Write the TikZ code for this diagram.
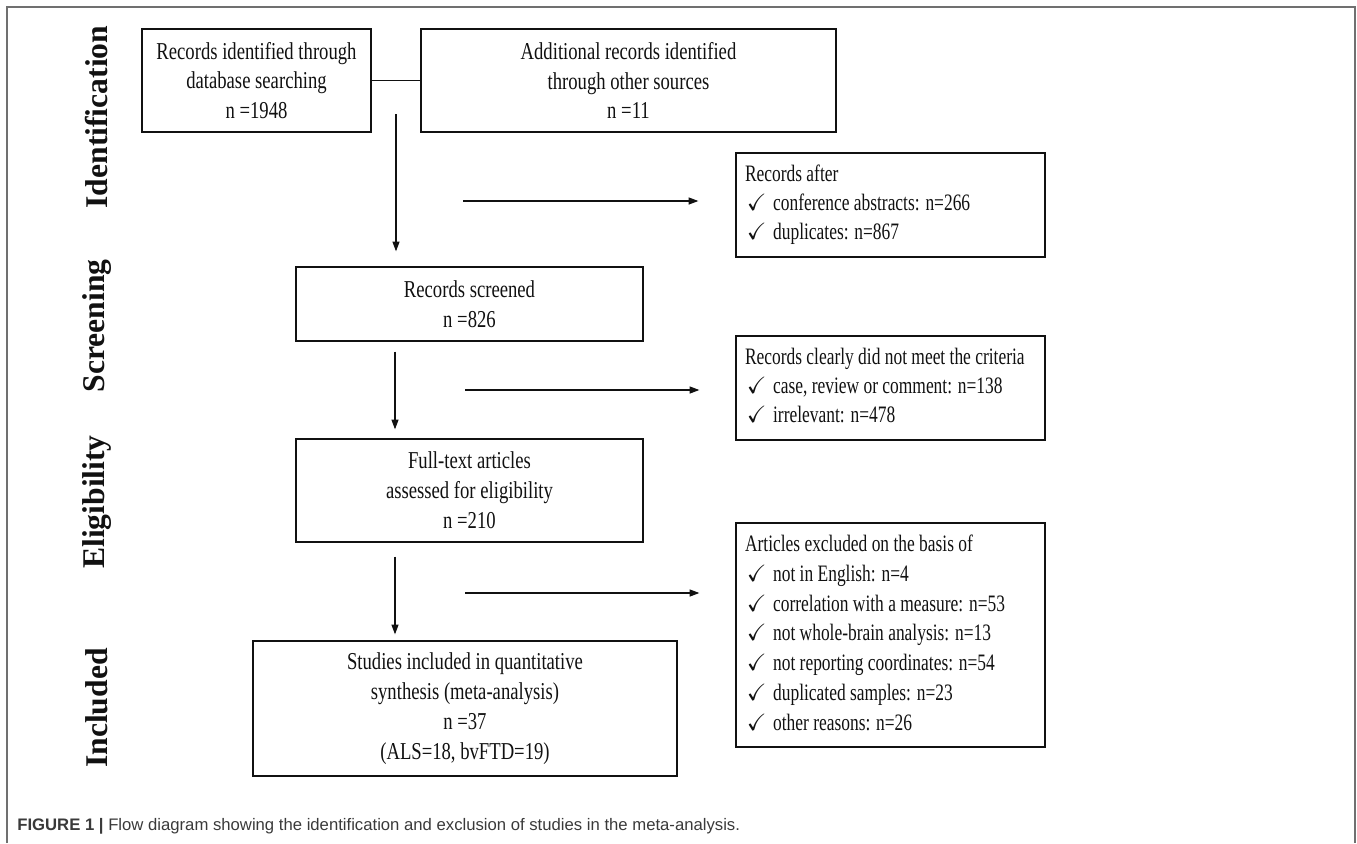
\documentclass[tikz,border=0pt]{standalone}
\usepackage{amssymb}
\usepackage{fontspec}
\setmainfont{Liberation Serif}
\setsansfont{Liberation Sans}
\newfontfamily\boxfont{Liberation Serif}[FakeStretch=0.77]
\newfontfamily\listfont{Liberation Serif}[FakeStretch=0.74]
\usetikzlibrary{arrows.meta}
\definecolor{flowink}{HTML}{111111}
\definecolor{framegray}{HTML}{707070}
\definecolor{captionink}{HTML}{3A3A3A}
\newcommand{\tickitem}{\makebox[16pt][l]{\hspace{1pt}$\checkmark$}}
\newcommand{\ticklist}[1]{\makebox[5.82cm][l]{\begin{tabular}{@{}l@{}}#1\end{tabular}}}

\begin{document}
\begin{tikzpicture}[x=0.02cm, y=-0.02cm, >={Triangle[length=5.5pt,width=4pt]},
                    every node/.style={flowink},
                    flowbox/.style={draw=flowink, line width=0.8pt, align=center, inner sep=0pt,
                                    font=\boxfont\fontsize{13.8pt}{17pt}\selectfont},
                    listbox/.style={draw=flowink, line width=0.8pt, inner ysep=0pt, inner xsep=0.18cm,
                                    minimum width=6.18cm, font=\listfont\fontsize{13.4pt}{16.4pt}\selectfont},
                    stagelabel/.style={rotate=90, font=\fontsize{18pt}{20pt}\selectfont\bfseries},
                    flowarrow/.style={->, draw=flowink, line width=0.6pt}]

  \useasboundingbox (0,0) rectangle (1357,843);

  %% outer frame, open at the bottom
  \draw[framegray, line width=1.1pt] (7,843) -- (7,7) -- (1355,7) -- (1355,843);

  %% stage labels
  \node[stagelabel] (lidentify) at (97,117) {Identification};
  \node[stagelabel] (lscreen)   at (97,326) {Screening};
  \node[stagelabel] (leligible) at (97,502) {Eligibility};
  \node[stagelabel] (linclude)  at (97,708) {Included};

  %% main column
  \node[flowbox, minimum width=4.58cm, minimum height=2.06cm] (recdb) at (256.5,80.5)
       {Records identified through\\database searching\\n =1948};
  \node[flowbox, minimum width=8.30cm, minimum height=2.06cm] (recother) at (628.5,80.5)
       {Additional records identified\\through other sources\\n =11};
  \node[flowbox, minimum width=6.94cm, minimum height=1.48cm] (screened) at (469.5,304)
       {Records screened\\n =826};
  \node[flowbox, minimum width=6.94cm, minimum height=2.06cm] (fulltext) at (469.5,490.5)
       {Full-text articles\\assessed for eligibility\\n =210};
  \node[flowbox, minimum width=8.48cm, minimum height=2.70cm] (included) at (465,708.5)
       {Studies included in quantitative\\synthesis (meta-analysis)\\n =37\\(ALS=18, bvFTD=19)};

  %% exclusions
  \node[listbox, minimum height=2.08cm] (after) at (890.5,205)
       {\ticklist{Records after\\
        \tickitem conference abstracts: n=266\\
        \tickitem duplicates: n=867}};
  \node[listbox, minimum height=2.08cm] (clearly) at (890.5,388)
       {\ticklist{Records clearly did not meet the criteria\\
        \tickitem case, review or comment: n=138\\
        \tickitem irrelevant: n=478}};
  \node[listbox, font=\listfont\fontsize{13.4pt}{17pt}\selectfont, minimum height=4.48cm] (articles) at (890.5,635)
       {\ticklist{Articles excluded on the basis of\\
        \tickitem not in English: n=4\\
        \tickitem correlation with a measure: n=53\\
        \tickitem not whole-brain analysis: n=13\\
        \tickitem not reporting coordinates: n=54\\
        \tickitem duplicated samples: n=23\\
        \tickitem other reasons: n=26}};

  %% connectors
  \draw[flowink, line width=0.6pt] (recdb.east) -- (recother.west);
  \coordinate (split) at (396,114);
  \coordinate (downx) at (395,0);
  \draw[flowarrow, shorten >=0.3cm] (split) -- (split |- screened.north);
  \draw[flowarrow, shorten <=0.2cm, shorten >=0.18cm] (screened.south -| downx) -- (fulltext.north -| downx);
  \draw[flowarrow, shorten <=0.28cm, shorten >=0.12cm] (fulltext.south -| downx) -- (included.north -| downx);

  \coordinate (out1) at (463,201);
  \coordinate (out2) at (465,390);
  \coordinate (out3) at (465,593);
  \draw[flowarrow, shorten >=0.74cm] (out1) -- (out1 -| after.west);
  \draw[flowarrow, shorten >=0.72cm] (out2) -- (out2 -| clearly.west);
  \draw[flowarrow, shorten >=0.72cm] (out3) -- (out3 -| articles.west);

  %% caption
  \node[anchor=base west, inner sep=0pt, captionink, font=\sffamily\fontsize{9.5pt}{11pt}\selectfont] (caption) at (17,830)
       {\textbf{FIGURE 1 |} Flow diagram showing the identification and exclusion of studies in the meta-analysis.};

\end{tikzpicture}
\end{document}
